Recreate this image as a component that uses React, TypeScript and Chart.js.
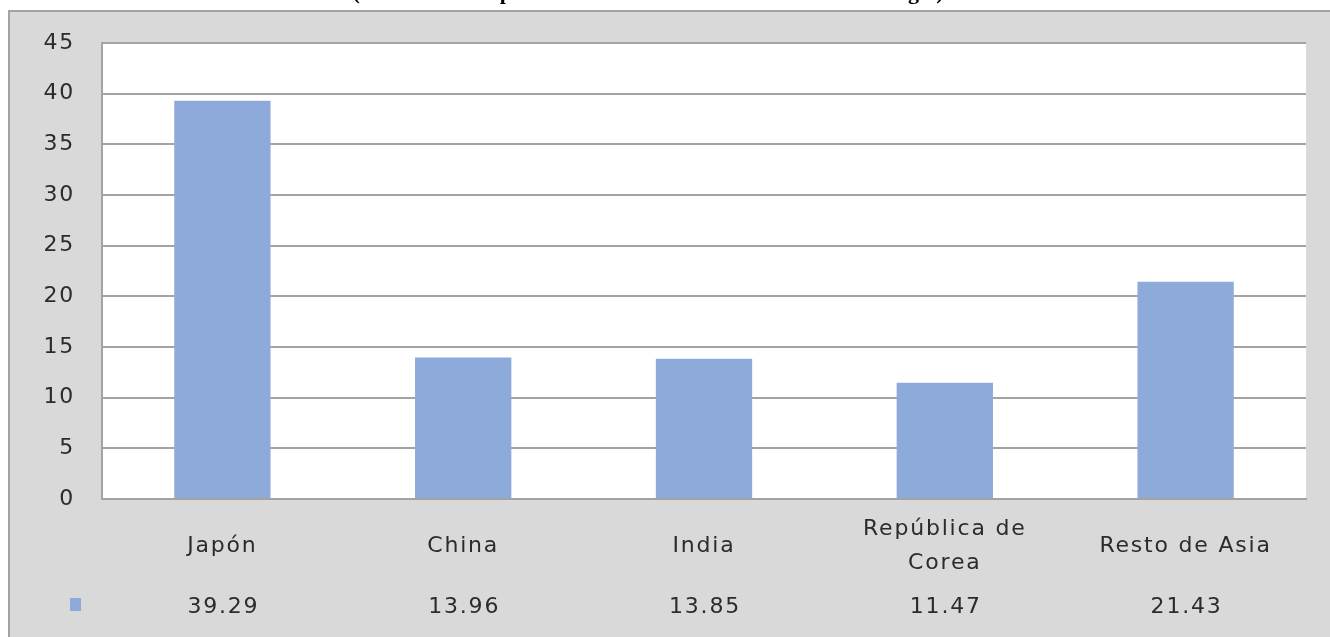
import React, { useEffect, useRef } from "react";
import { Chart, registerables } from "chart.js";

Chart.register(...registerables);

// ---- data ----
const categories: (string | string[])[] = [
  "Japón",
  "China",
  "India",
  ["República de", "Corea"],
  "Resto de Asia",
];
const values: number[] = [39.29, 13.96, 13.85, 11.47, 21.43];
const yMin = 0;
const yMax = 45;
const yStep = 5;
const seriesName = "Serie 1";
const titleText = "(Cuota de cada país en el total del consumo asiático de energía)";

// ---- style ----
const W = 1320;
const H = 625;
const FONT = "'DejaVu Sans', sans-serif";
const FONT_SIZE = 22;
const LETTER_SPACING = "1.8px";
const TEXT = "#2b2b2b";
const GRID = "#a3a3a3";
const BAR = "#8eaadb";
const BG = "#d9d9d9";

const areaPlugin = {
  id: "plotArea",
  beforeDraw(chart: any) {
    const ctx = chart.ctx as any;
    const a = chart.chartArea;
    ctx.letterSpacing = LETTER_SPACING;
    ctx.save();
    ctx.fillStyle = "#ffffff";
    ctx.fillRect(a.left, a.top, a.right - a.left, a.bottom - a.top);
    ctx.restore();
  },
};

const tablePlugin = {
  id: "dataTable",
  afterDraw(chart: any) {
    const ctx = chart.ctx as any;
    const xs = chart.scales.x;
    const area = chart.chartArea;
    const rowY = area.bottom + 108;
    ctx.save();
    ctx.letterSpacing = LETTER_SPACING;
    ctx.font = `${FONT_SIZE}px ${FONT}`;
    ctx.fillStyle = TEXT;
    ctx.textAlign = "center";
    ctx.textBaseline = "middle";
    values.forEach((v, i) => {
      ctx.fillText(v.toFixed(2), xs.getPixelForValue(i) + 1, rowY);
    });
    ctx.fillStyle = BAR;
    ctx.fillRect(60, rowY - 9, 11, 13);
    ctx.restore();
  },
};

export default function App() {
  const ref = useRef<HTMLCanvasElement | null>(null);

  useEffect(() => {
    if (!ref.current) return;
    const chart = new Chart(ref.current, {
      type: "bar",
      data: {
        labels: categories as any,
        datasets: [
          {
            label: seriesName,
            data: values,
            backgroundColor: BAR,
            borderWidth: 0,
            barPercentage: 0.4,
            categoryPercentage: 1,
          },
        ],
      },
      options: {
        responsive: false,
        animation: false,
        devicePixelRatio: 1,
        layout: { padding: { top: 31, right: 24, left: 0, bottom: 0 } },
        plugins: {
          legend: { display: false },
          title: { display: false },
          tooltip: { enabled: false },
        },
        scales: {
          x: {
            grid: { display: false, drawTicks: false },
            border: { display: true, color: GRID, width: 2 },
            ticks: {
              color: TEXT,
              font: { family: FONT, size: FONT_SIZE, lineHeight: 1.55 },
              padding: 30,
              crossAlign: "center",
              maxRotation: 0,
              autoSkip: false,
            },
            afterFit: (s: any) => {
              s.height = 138;
              s.paddingLeft = 0;
              s.paddingRight = 0;
            },
          },
          y: {
            min: yMin,
            max: yMax,
            grid: { color: GRID, lineWidth: 2, drawTicks: false },
            border: { display: true, color: GRID, width: 2 },
            ticks: {
              stepSize: yStep,
              color: TEXT,
              font: { family: FONT, size: FONT_SIZE },
              padding: 27,
            },
            afterFit: (s: any) => {
              s.width = 92;
              s.paddingTop = 0;
              s.paddingBottom = 0;
            },
          },
        },
      },
      plugins: [areaPlugin, tablePlugin],
    });
    return () => chart.destroy();
  }, []);

  return (
    <>
      <div
        style={{
          position: "fixed",
          left: 0,
          top: -19,
          width: 1296,
          textAlign: "center",
          fontFamily: "'Liberation Serif', serif",
          fontWeight: "bold",
          fontSize: 22,
          lineHeight: "22px",
          color: "#000",
          whiteSpace: "nowrap",
        }}
      >
        {titleText}
      </div>
      <div
        style={{
          position: "fixed",
          left: 8,
          top: 10,
          right: 0,
          bottom: 0,
          background: BG,
          borderLeft: `2px solid ${GRID}`,
          borderTop: `2px solid ${GRID}`,
          overflow: "hidden",
        }}
      >
        <canvas ref={ref} width={W} height={H} style={{ display: "block" }} />
      </div>
    </>
  );
}
